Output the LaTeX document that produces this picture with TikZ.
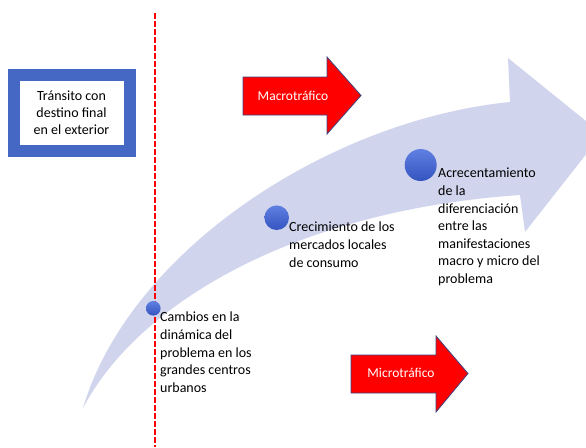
\documentclass[tikz,border=0pt]{standalone}
\usepackage{fontspec}
\setmainfont{Carlito}
\definecolor{band}{RGB}{208,212,236}
\definecolor{boxblue}{RGB}{68,104,196}
\definecolor{dotA}{RGB}{96,128,226}
\definecolor{dotB}{RGB}{52,84,192}
\definecolor{arrowedge}{RGB}{60,70,130}
\begin{document}
\begin{tikzpicture}[x=1pt,y=-1pt,
  txt/.style={font=\fontsize{14}{17.6}\selectfont, align=left, inner sep=0pt, anchor=north west},
  dot/.style={circle, inner sep=0pt, minimum size=#1, top color=dotA, bottom color=dotB, draw=none},
  redarrow/.style={fill=red, draw=arrowedge, line width=0.8pt, line join=miter},
  arrowlabel/.style={text=white, font=\fontsize{13.5}{16}\selectfont, inner sep=0pt},
  divider/.style={red, line width=2.7pt, dash pattern=on 5.5pt off 2.5pt}]
\useasboundingbox (0,0) rectangle (586,447);
\fill[white] (0,0) rectangle (586,447);
\begin{scope}
\clip (0,0) rectangle (586,447);
\fill[band] (83,408) .. controls (130,250) and (330,120) .. (510,102) -- (508,58) -- (602,134) -- (525,232) -- (520,195) .. controls (300,210) and (140,300) .. (83,408) -- cycle;
\end{scope}
% dashed divider
\coordinate (dtop) at (155,13);
\coordinate (dbot) at (155,447);
\draw[divider] (dtop) -- (dbot);
% left box
\node (box) at (71.5,112.75) [draw=boxblue, line width=12pt, minimum width=116pt, minimum height=76.5pt, align=center, font=\fontsize{14}{17}\selectfont, inner sep=0pt] {Tránsito con\\destino final\\en el exterior};
% red arrows
\draw[redarrow] (243,77) -- (327,77) -- (327,57) -- (361,95.5) -- (327,134) -- (327,115) -- (243,115) -- cycle;
\node[arrowlabel] (macro) at (293,96) {Macrotráfico};
\draw[redarrow] (351,355) -- (436,355) -- (436,336) -- (468,373.5) -- (436,412) -- (436,393) -- (351,393) -- cycle;
\node[arrowlabel] (micro) at (401,373) {Microtráfico};
% dots
\node[dot=14.6pt] (c1) at (153.3,308.3) {};
\node[dot=24.6pt] (c2) at (276.7,217.7) {};
\node[dot=32pt] (c3) at (420.7,165) {};
% texts
\node[txt] (t1) at (160,312) {Cambios en la\\dinámica del\\problema en los\\grandes centros\\urbanos};
\node[txt] (t2) at (289,222) {Crecimiento de los\\mercados locales\\de consumo};
\node[txt] (t3) at (438,168) {Acrecentamiento\\de la\\diferenciación\\entre las\\manifestaciones\\macro y micro del\\problema};
\end{tikzpicture}
\end{document}
